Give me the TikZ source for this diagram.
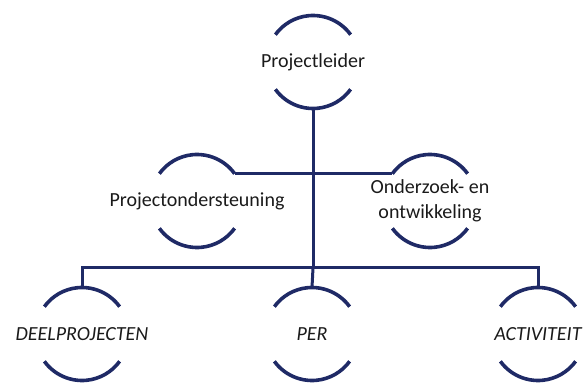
\documentclass[tikz,border=0pt]{standalone}
\usepackage{fontspec}
\setmainfont{Carlito}
\definecolor{OrgNavy}{HTML}{1F2A66}
\definecolor{OrgText}{HTML}{1A1A1A}

\begin{document}
\begin{tikzpicture}[
    x=1pt, y=-1pt,
    % lege cirkel, alleen boog boven en onder wordt getekend
    ring/.style={circle, minimum size=93pt, inner sep=0pt, outer sep=0pt},
    lbl/.style={font=\fontsize{20}{25}\selectfont, text=OrgText, align=center},
    klbl/.style={lbl, font=\fontsize{20}{25}\selectfont\itshape},
    arcline/.style={OrgNavy, line width=3.6pt},
    conn/.style={OrgNavy, line width=3pt}
]
    \useasboundingbox (0,0) rectangle (584,387);

    \def\r{46.5}

    % --- 1. knopen ---
    \node[ring, label={[lbl]center:Projectleider}] (pl) at (313,62) {};
    \node[ring, label={[lbl]center:Projectondersteuning}] (po) at (197,201) {};
    \node[ring, label={[lbl]center:Onderzoek- en\\ontwikkeling}] (ow) at (430,201) {};
    \node[ring, label={[klbl]center:DEELPROJECTEN}] (dp) at (82,334) {};
    \node[ring, label={[klbl]center:PER}] (per) at (312,334) {};
    \node[ring, label={[klbl]center:ACTIVITEIT}] (act) at (538,334) {};

    % --- 2. verbindingen ---
    \coordinate (bus) at (pl.south |- 0,268);
    \draw[conn] (pl.south) -- (bus);
    \draw[conn] (po.36) -- (ow.144);
    \draw[conn] (dp.north) |- (bus) -| (act.north);
    \draw[conn] (bus) -- (per.north);

    % --- 3. bogen boven en onder (y loopt omlaag, dus hoeken gespiegeld) ---
    \foreach \n in {pl, po, ow, dp, per, act} {
        \draw[arcline] (\n.36) arc[start angle=-36, end angle=-144, radius=\r];
        \draw[arcline] (\n.-144) arc[start angle=144, end angle=36, radius=\r];
    }

\end{tikzpicture}
\end{document}
